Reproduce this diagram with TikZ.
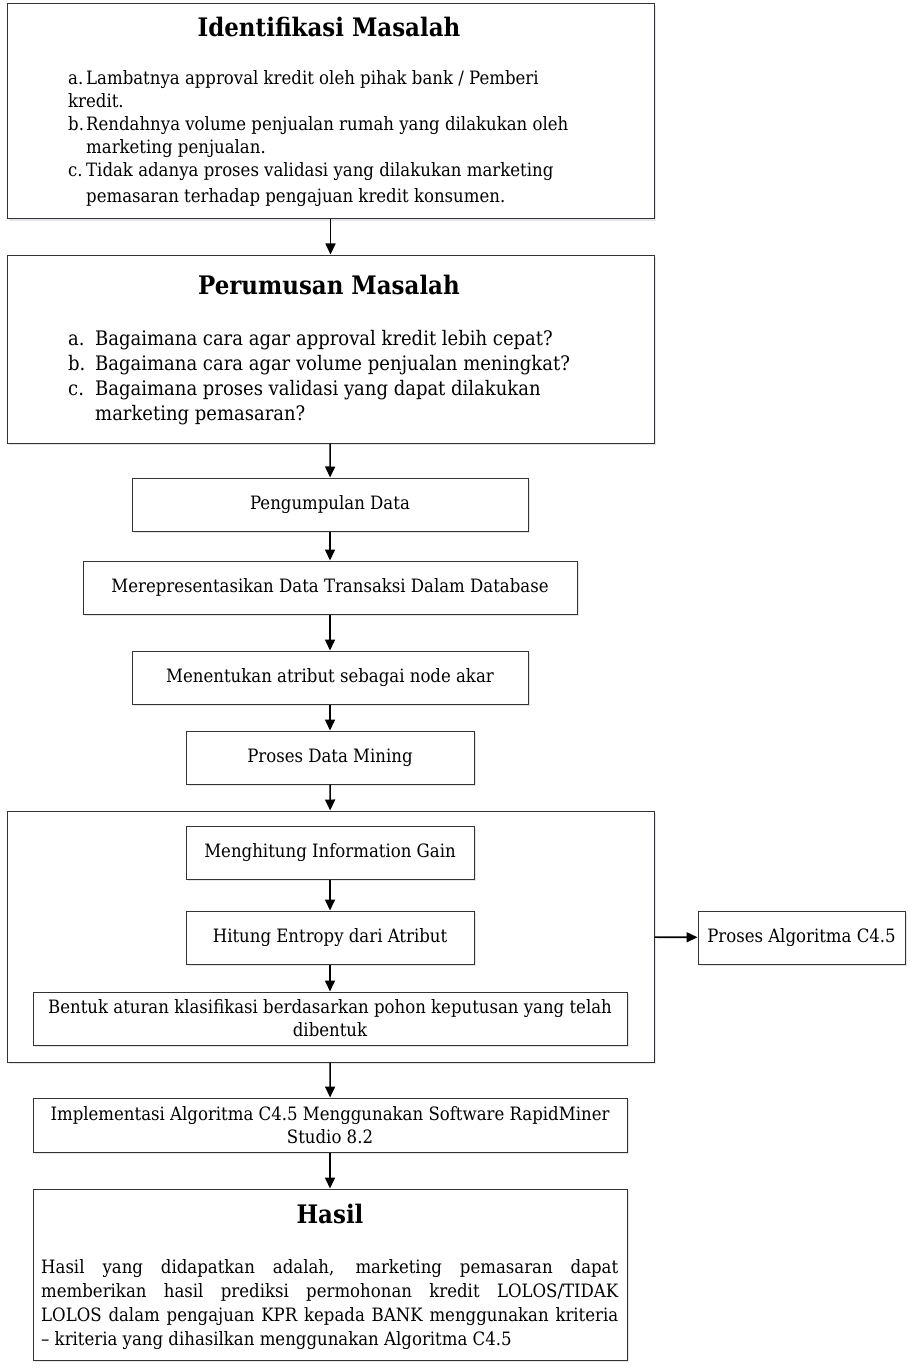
\documentclass[tikz,border=0pt]{standalone}
\usepackage{fontspec}
\setmainfont{DejaVu Serif Condensed}
\usetikzlibrary{shadows,arrows.meta}

\newcommand{\judul}{\fontsize{25.5}{30}\selectfont\bfseries}
\newcommand{\isi}{\fontsize{18.4}{23}\selectfont}
\newcommand{\isibesar}{\fontsize{20}{25}\selectfont}
\newcommand{\poin}[1]{\makebox[18pt][l]{#1}}

\tikzset{
    box/.style={draw=black!80, fill=white, line width=1pt, inner sep=0pt,
        drop shadow={shadow xshift=1.5pt, shadow yshift=-2pt, fill=blue!40!black!20, opacity=0.5}},
    teks/.style={inner sep=0pt, font=\isi},
    panah/.style={-{Triangle[length=11pt, width=10pt]}, line width=1.6pt}
}

\begin{document}
\begin{tikzpicture}[x=1pt, y=-1pt]
        \useasboundingbox (0,0) rectangle (914,1372);

        % kotak identifikasi dan perumusan
        \node[box, minimum width=647pt, minimum height=215pt] (ident) at (330.5,111.5) {};
        \node[teks] (identJ) at (329,27) {\judul Identifikasi Masalah};
        \node[teks, anchor=north west, align=left] (identI) at (68,70) {%
            \poin{a.}Lambatnya approval kredit oleh pihak bank / Pemberi\\
            kredit.\\
            \poin{b.}Rendahnya volume penjualan rumah yang dilakukan oleh\\
            \hspace*{18pt}marketing penjualan.\\
            \poin{c.}Tidak adanya proses validasi yang dilakukan marketing\\[3pt]
            \hspace*{18pt}pemasaran terhadap pengajuan kredit konsumen.};

        \node[box, minimum width=647pt, minimum height=188pt] (rumus) at (330.5,349) {};
        \node[teks] (rumusJ) at (329,285) {\judul Perumusan Masalah};
        \node[teks, anchor=north west, align=left, font=\isibesar] (rumusI) at (68,330) {%
            \makebox[27pt][l]{a.}Bagaimana cara agar approval kredit lebih cepat?\\
            \makebox[27pt][l]{b.}Bagaimana cara agar volume penjualan meningkat?\\
            \makebox[27pt][l]{c.}Bagaimana proses validasi yang dapat dilakukan\\
            \hspace*{27pt}marketing pemasaran?};

        % langkah
        \node[box, teks, minimum width=396pt, minimum height=53pt] (kumpul) at (330,504.5) {Pengumpulan Data};
        \node[box, teks, minimum width=494pt, minimum height=53pt] (repr) at (330,587.5) {Merepresentasikan Data Transaksi Dalam Database};
        \node[box, teks, minimum width=396pt, minimum height=53pt] (akar) at (330,677.5) {Menentukan atribut sebagai node akar};
        \node[box, teks, minimum width=288pt, minimum height=53pt] (mining) at (330,757.5) {Proses Data Mining};

        % proses algoritma
        \node[box, minimum width=647pt, minimum height=251pt] (wadah) at (330.5,936.5) {};
        \node[box, teks, minimum width=288pt, minimum height=53pt] (gain) at (330,852.5) {Menghitung Information Gain};
        \node[box, teks, minimum width=288pt, minimum height=53pt] (entropy) at (330,937.5) {Hitung Entropy dari Atribut};
        \node[box, teks, minimum width=594pt, minimum height=53pt, align=center] (aturan) at (330,1018.5)
            {Bentuk aturan klasifikasi berdasarkan pohon keputusan yang telah\\dibentuk};
        \node[box, teks, minimum width=207pt, minimum height=53pt] (algo) at (801.5,937.5) {Proses Algoritma C4.5};

        \node[box, teks, minimum width=594pt, minimum height=54pt, align=center] (impl) at (330,1125)
            {Implementasi Algoritma C4.5 Menggunakan Software RapidMiner\\Studio 8.2};

        % hasil
        \node[box, minimum width=594pt, minimum height=171pt] (hasil) at (330,1274.5) {};
        \node[teks] (hasilJ) at (330,1214) {\judul Hasil};
        \node[teks, anchor=north west, text width=577pt, align=justify, font=\fontsize{18.4}{24}\selectfont] (hasilI) at (41,1259) {%
            \hyphenpenalty=10000
            Hasil yang didapatkan adalah, marketing pemasaran dapat\linebreak
            memberikan hasil prediksi permohonan kredit LOLOS/TIDAK\linebreak
            LOLOS dalam pengajuan KPR kepada BANK menggunakan kriteria\linebreak
            \mbox{--} kriteria yang dihasilkan menggunakan Algoritma C4.5\par};

        \draw[panah] (ident) -- (rumus);
        \draw[panah] (rumus) -- (kumpul);
        \draw[panah] (kumpul) -- (repr);
        \draw[panah] (repr) -- (akar);
        \draw[panah] (akar) -- (mining);
        \draw[panah] (mining) -- (wadah);
        \draw[panah] (gain) -- (entropy);
        \draw[panah] (entropy) -- (aturan);
        \draw[panah] (wadah) -- (algo);
        \draw[panah] (wadah) -- (impl);
        \draw[panah] (impl) -- (hasil);

    \end{tikzpicture}
\end{document}
